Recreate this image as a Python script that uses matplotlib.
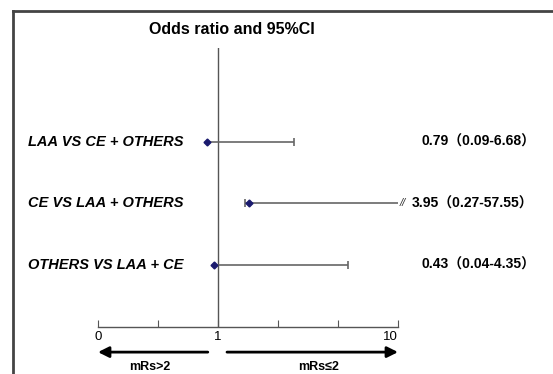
import matplotlib
matplotlib.use("Agg")
import matplotlib.pyplot as plt
from matplotlib.lines import Line2D

plt.rcParams["font.family"] = ["Liberation Sans", "Noto Sans CJK SC", "DejaVu Sans"]

# rows, top to bottom
labels = ["LAA VS CE + OTHERS", "CE VS LAA + OTHERS", "OTHERS VS LAA + CE"]
or_vals = [0.79, 3.95, 0.43]
ci_lo = [0.09, 0.27, 0.04]
ci_hi = [6.68, 57.55, 4.35]

# where the marks sit on the drawn axis (0 .. 5 units, "1" at 2, "10" at 5)
or_pos = [1.82, 2.52, 1.93]
lo_pos = [1.82, 2.45, 1.93]
hi_pos = [3.27, 5.0, 4.17]
truncated = [False, True, False]

tick_pos = [0, 1, 2, 3, 4, 5]
tick_labels = ["0", "", "1", "", "", "10"]

W, H = 553, 374
fig = plt.figure(figsize=(W / 100, H / 100), dpi=100)

# outer frame (left + top)
frame_kw = dict(color="#444444", lw=2, transform=fig.transFigure)
fig.add_artist(Line2D([13 / W, 13 / W], [0, 1 - 11 / H], **frame_kw))
fig.add_artist(Line2D([13 / W, 1], [1 - 11 / H, 1 - 11 / H], **frame_kw))

ax = fig.add_axes([98 / W, 47 / H, 300 / W, 279 / H])
ax.set_xlim(0, 5)
ax.set_ylim(3.01, -1.53)
for s in ["top", "right", "left"]:
    ax.spines[s].set_visible(False)
ax.spines["bottom"].set_color("#555555")
ax.spines["bottom"].set_linewidth(1)
ax.set_yticks([])
ax.set_xticks(tick_pos)
ax.set_xticklabels(tick_labels, fontsize=9.5)
ax.tick_params(axis="x", direction="in", length=5, color="#555555", pad=3)
ax.get_xticklabels()[-1].set_ha("right")

ax.axvline(2, color="#555555", lw=1)

line_c = "#666666"
for i in range(len(labels)):
    ax.hlines(i, lo_pos[i], hi_pos[i], color=line_c, lw=1.2)
    if lo_pos[i] < or_pos[i]:
        ax.plot(lo_pos[i], i, marker="|", ms=6, color=line_c, mew=1.2)
    if not truncated[i]:
        ax.plot(hi_pos[i], i, marker="|", ms=6, color=line_c, mew=1.2)
    else:
        ax.text(hi_pos[i] + 0.03, i, "//", fontsize=8, style="italic",
                color="#333333", va="center", ha="left", clip_on=False)
    ax.plot(or_pos[i], i, marker="D", ms=3.5, color="#1a1a6e", mec="#1a1a6e")

    ax.text(-1.17, i, labels[i], fontsize=10.5, fontweight="bold",
            style="italic", va="center", ha="left", clip_on=False)
    txt_x = 5.23 if truncated[i] else 5.4
    ax.text(txt_x, i, f"{or_vals[i]:.2f}（{ci_lo[i]:.2f}-{ci_hi[i]:.2f}）",
            fontsize=10, fontweight="bold", va="center", ha="left",
            clip_on=False)

fig.text(232 / W, 1 - 29 / H, "Odds ratio and 95%CI", fontsize=11.5,
         fontweight="bold", ha="center", va="center")

# direction arrows under the axis
xt = ax.get_xaxis_transform()
arrow_kw = dict(arrowstyle="-|>", lw=2, color="black", mutation_scale=16,
                shrinkA=0, shrinkB=0)
ax.annotate("", xy=(0, -0.09), xytext=(1.83, -0.09), xycoords=xt,
            textcoords=xt, arrowprops=arrow_kw, annotation_clip=False)
ax.annotate("", xy=(5, -0.09), xytext=(2.15, -0.09), xycoords=xt,
            textcoords=xt, arrowprops=arrow_kw, annotation_clip=False)
ax.text(0.87, -0.145, "mRs>2", transform=xt, fontsize=9,
        fontweight="bold", ha="center", va="center")
ax.text(3.68, -0.145, "mRs≤2", transform=xt, fontsize=9,
        fontweight="bold", ha="center", va="center",
        family=["Liberation Sans", "DejaVu Sans"])

fig.savefig("out.png", dpi=100)
